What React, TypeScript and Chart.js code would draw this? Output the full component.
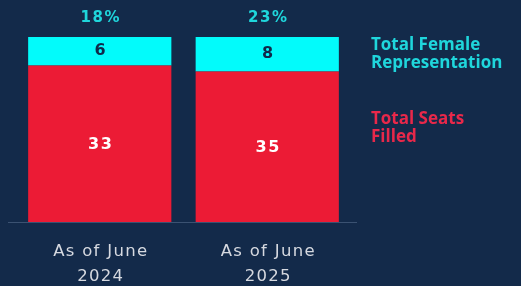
import React, { useEffect, useRef } from "react";
import { Chart, registerables } from "chart.js";

Chart.register(...registerables);

const categories: string[][] = [["As of June", "2024"], ["As of June", "2025"]];
const seatsFilled: number[] = [33, 35];
const femaleRep: number[] = [6, 8];
const percentLabels: string[] = ["18%", "23%"];
const legendFemale: string[] = ["Total Female", "Representation"];
const legendSeats: string[] = ["Total Seats", "Filled"];

const BG = "#132a4a";
const RED = "#ec1b35";
const CYAN = "#02fbfb";
const CYAN_TEXT = "#1fd6dc";
const RED_TEXT = "#e8284a";

const totals = seatsFilled.map((s, i) => s + femaleRep[i]);
const seatsShare = seatsFilled.map((s, i) => (s / totals[i]) * 100);
const femaleShare = femaleRep.map((f, i) => (f / totals[i]) * 100);

const labelPlugin = {
  id: "labels",
  beforeDraw(chart: any) {
    const ctx = chart.ctx;
    ctx.save();
    ctx.fillStyle = BG;
    ctx.fillRect(0, 0, chart.width, chart.height);
    ctx.restore();
  },
  afterDatasetsDraw(chart: any) {
    const ctx = chart.ctx as CanvasRenderingContext2D;
    const area = chart.chartArea;
    const xs = chart.scales.x;
    ctx.save();
    // baseline
    ctx.strokeStyle = "#3b5272";
    ctx.lineWidth = 1;
    ctx.beginPath();
    ctx.moveTo(8, Math.round(area.bottom) + 0.5);
    ctx.lineTo(357, Math.round(area.bottom) + 0.5);
    ctx.stroke();

    ctx.textAlign = "center";
    ctx.textBaseline = "middle";
    const metaSeats = chart.getDatasetMeta(0);
    const metaFemale = chart.getDatasetMeta(1);
    (ctx as any).letterSpacing = "1.5px";
    metaSeats.data.forEach((bar: any, i: number) => {
      ctx.font = "bold 16px 'DejaVu Sans'";
      ctx.fillStyle = "#ffffff";
      ctx.fillText(String(seatsFilled[i]), bar.x + 1, (bar.y + bar.base) / 2 + 1);
    });
    metaFemale.data.forEach((bar: any, i: number) => {
      ctx.font = "bold 16px 'DejaVu Sans'";
      ctx.fillStyle = "#10294a";
      ctx.fillText(String(femaleRep[i]), bar.x + 1, (bar.y + bar.base) / 2);
      ctx.fillStyle = CYAN_TEXT;
      ctx.font = "bold 15px 'DejaVu Sans'";
      ctx.fillText(percentLabels[i], bar.x + 1, bar.y - 19);
    });

    // x labels
    (ctx as any).letterSpacing = "1.3px";
    ctx.font = "16.5px 'DejaVu Sans'";
    ctx.fillStyle = "#d6d9e0";
    categories.forEach((lines, i) => {
      const x = xs.getPixelForValue(i);
      lines.forEach((l, j) => {
        ctx.fillText(l, x + 1, area.bottom + 30 + j * 25);
      });
    });

    // legend
    (ctx as any).letterSpacing = "0px";
    ctx.textAlign = "left";
    ctx.font = "bold 17px 'Open Sans'";
    ctx.fillStyle = CYAN_TEXT;
    legendFemale.forEach((l, j) => ctx.fillText(l, 371, 45 + j * 18));
    ctx.fillStyle = RED_TEXT;
    legendSeats.forEach((l, j) => ctx.fillText(l, 371, 119 + j * 18));
    ctx.restore();
  },
};

export default function App() {
  const ref = useRef<HTMLCanvasElement>(null);
  useEffect(() => {
    document.body.style.margin = "0";
    document.body.style.background = BG;
    const chart = new Chart(ref.current!, {
      type: "bar",
      data: {
        labels: categories.map((c) => c.join(" ")),
        datasets: [
          { label: "Total Seats Filled", data: seatsShare, backgroundColor: RED, borderWidth: 0 },
          { label: "Total Female Representation", data: femaleShare, backgroundColor: CYAN, borderWidth: 0 },
        ],
      },
      options: {
        animation: false,
        responsive: false,
        maintainAspectRatio: false,
        layout: { padding: { left: 16, right: 170, top: 37, bottom: 64 } },
        datasets: { bar: { barPercentage: 0.855, categoryPercentage: 1 } },
        scales: {
          x: { stacked: true, display: false },
          y: { stacked: true, display: false, min: 0, max: 100 },
        },
        plugins: { legend: { display: false }, tooltip: { enabled: false } },
      },
      plugins: [labelPlugin],
    });
    return () => chart.destroy();
  }, []);
  return (
    <div style={{ width: 521, height: 286, background: BG }}>
      <canvas ref={ref} width={521} height={286} style={{ display: "block" }} />
    </div>
  );
}
